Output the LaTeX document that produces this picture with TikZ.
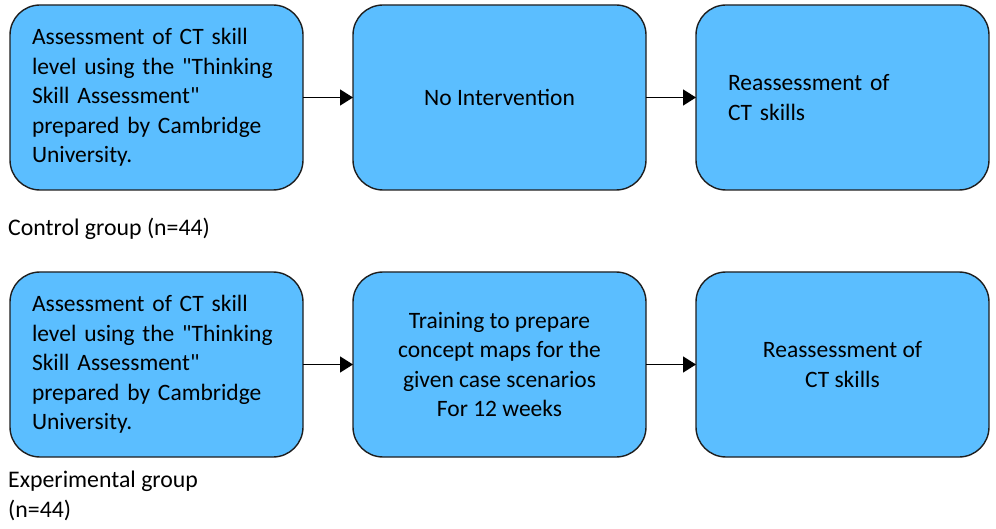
\documentclass[tikz,border=0pt]{standalone}
\usepackage{fontspec}
\setmainfont{Carlito}
\usepackage{xcolor}
\usepackage{tikz}
\usetikzlibrary{arrows.meta,positioning}
\definecolor{stagefill}{RGB}{91,190,255}
\definecolor{stageline}{RGB}{30,30,30}

\begin{document}
\begin{tikzpicture}[
    x=1pt, y=-1pt,
    node distance=50pt,
    stage/.style={draw=stageline, fill=stagefill, line width=1.4pt, rounded corners=30pt,
        minimum width=293pt, minimum height=185pt, inner xsep=22pt, outer sep=0pt,
        font=\fontsize{23.5}{29.5}\selectfont},
    arrow/.style={-{Triangle[length=13pt,width=16pt]}, line width=1.5pt},
    label/.style={font=\fontsize{23.8}{30}\selectfont, anchor=west, align=left, inner sep=0pt}
]
    \useasboundingbox (0,0) rectangle (996,529);

    % Control group
    \node[stage, anchor=north west, text width=249pt, align=left] (ctrlpre) at (10,5) {
        Assessment of CT skill\\
        level using the \textquotedbl Thinking\\
        Skill Assessment\textquotedbl\\
        prepared by Cambridge\\
        University.};
    \node[stage, right=of ctrlpre, align=center] (ctrlmid) {No Intervention};
    \node[stage, right=of ctrlmid, inner xsep=32pt, text width=229pt, align=left] (ctrlpost) {
        Reassessment of\\
        CT skills};

    % Experimental group
    \node[stage, below=82pt of ctrlpre, text width=249pt, align=left] (exppre) {
        Assessment of CT skill\\
        level using the \textquotedbl Thinking\\
        Skill Assessment\textquotedbl\\
        prepared by Cambridge\\
        University.};
    \node[stage, right=of exppre, align=center] (expmid) {
        Training to prepare\\
        concept maps for the\\
        given case scenarios\\
        For 12 weeks};
    \node[stage, right=of expmid, align=center] (exppost) {
        Reassessment of\\
        CT skills};

    % Arrows
    \draw[arrow] (ctrlpre) -- (ctrlmid);
    \draw[arrow] (ctrlmid) -- (ctrlpost);
    \draw[arrow] (exppre) -- (expmid);
    \draw[arrow] (expmid) -- (exppost);

    % Group labels
    \node[label] (ctrllabel) at (8,229) {Control group (n=44)};
    \node[label] (explabel) at (8,496) {Experimental group\\(n=44)};
\end{tikzpicture}
\end{document}
